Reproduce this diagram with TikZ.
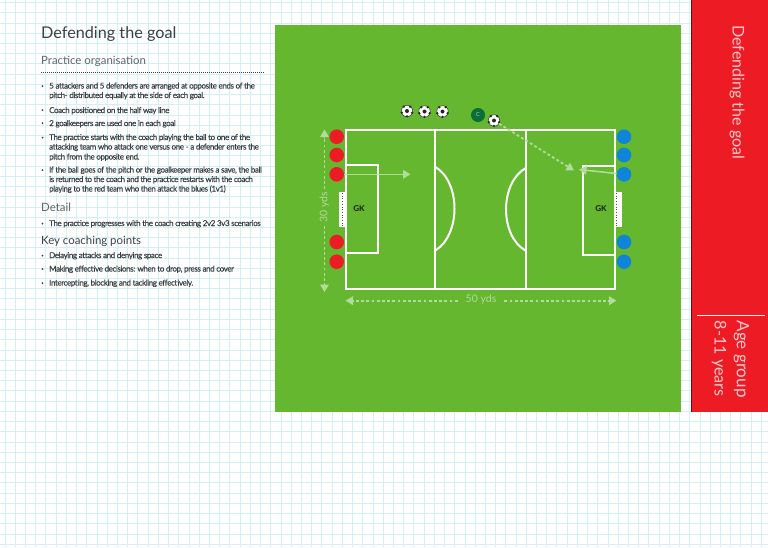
\documentclass[tikz,border=0pt]{standalone}
\usepackage{fontspec}
\setmainfont{Lato}
\newfontfamily\bodyf[LetterSpace=-5,FakeBold=0.25]{Lato}
\usetikzlibrary{arrows.meta}
\definecolor{gridc}{HTML}{D6EEF6}
\definecolor{pitchg}{HTML}{64B72F}
\definecolor{redc}{HTML}{ED1C24}
\definecolor{bluec}{HTML}{0F85D9}
\definecolor{pale}{HTML}{B2DC9C}
\definecolor{txt}{HTML}{3A4044}
\definecolor{sub}{HTML}{5E6568}
\definecolor{coachg}{HTML}{0B6E38}
\definecolor{pinkw}{HTML}{FBC9CC}
\tikzset{
  x=1pt,y=-1pt,
  pl/.style={line width=2pt,draw=white},
  attacker/.style={circle,fill=redc,minimum size=14.6pt,inner sep=0pt},
  defender/.style={circle,fill=bluec,minimum size=14.6pt,inner sep=0pt},
  gk/.style={font=\bfseries\fontsize{8}{8}\selectfont,text=black!90,inner sep=0pt},
  ballnode/.style={circle,fill=white,draw=black!80,line width=.5pt,minimum size=11.5pt,inner sep=0pt},
  dim/.style={line width=1.8pt,draw=pale,dash pattern=on 2.8pt off 2.4pt},
  run/.style={line width=1.6pt,draw=pale},
  tip/.style={-{Triangle[length=7.5pt,width=8.5pt,fill=pale,color=pale]}},
  blk/.style={anchor=base west,inner sep=0pt,text=txt,font=\bodyf\fontsize{8}{9}\selectfont},
  bul/.style={circle,fill=txt,inner sep=0pt,minimum size=2pt},
  dimtxt/.style={text=pale,inner sep=0pt,font=\fontsize{10.5}{11}\selectfont},
  side/.style={rotate=-90,anchor=west,inner sep=0pt,text=pinkw},
}
\newcommand{\soccerball}[2]{%
  \node[ballnode] (#1) at (#2) {};
  \fill[black!85] (#1.center) circle (2pt);
  \foreach \a in {-90,-18,54,126,198} {\fill[black!85] (#1.center) ++(\a:5.4pt) circle (1.3pt);}
}
\begin{document}
\begin{tikzpicture}
\useasboundingbox (0,0) rectangle (768,547);
\fill[white] (0,0) rectangle (768,547);
\foreach \k in {0,...,75} {\draw[gridc,line width=.8pt] ({5+10.22*\k},0) -- ({5+10.22*\k},547);}
\foreach \k in {0,...,53} {\draw[gridc,line width=.8pt] (0,{2.5+10.22*\k}) -- (768,{2.5+10.22*\k});}
% panels
\fill[pitchg] (274.5,25) rectangle (681,412);
\fill[redc] (691,0) rectangle (768,412);
\draw[black!60!redc,line width=1.4pt] (691.3,0) -- (691.3,412);
% side texts
\node[side,font=\fontsize{16.1}{18}\selectfont] (sidetitle) at (737,25) {Defending the goal};
\draw[white,line width=.8pt] (697,315) -- (765,315);
\node[side,font=\fontsize{17}{18}\selectfont] (agea) at (741.5,320.5) {Age group};
\node[side,font=\fontsize{16.2}{18}\selectfont] (ageb) at (719,320.5) {8-11 years};
% left text
\node[anchor=base west,inner sep=0pt,text=txt,font=\fontsize{16.2}{20}\selectfont] (title) at (41,38.5) {Defending the goal};
\node[anchor=base west,inner sep=0pt,text=sub,font=\fontsize{11.4}{14}\selectfont] (po) at (41,64) {Practice organisation};
\draw[txt,line width=1.2pt,dash pattern=on 1pt off 1pt] (41,72.3) -- (265,72.3);
\foreach \y in {86,110,123,137.5,170,223.5,255.5,269,283} {\node[bul] at (42.5,\y) {};}
\node[blk] (l1) at (49,88.5) {5 attackers and 5 defenders are arranged at opposite ends of the};
\node[blk] (l2) at (49,98) {pitch- distributed equally at the  side of each goal.};
\node[blk] (l3) at (49,113) {Coach positioned on the half way line};
\node[blk] (l4) at (49,126) {2 goalkeepers are used one in each goal};
\node[blk] (l5) at (49,140) {The practice starts with the coach playing the ball to one of the};
\node[blk] (l6) at (49,149.5) {attacking team who attack one versus one - a defender enters the};
\node[blk] (l7) at (49,159.5) {pitch from the opposite end.};
\node[blk] (l8) at (49,172.5) {If the ball goes of the pitch or the goalkeeper makes a save, the ball};
\node[blk] (l9) at (49,182) {is returned to the coach and the practice restarts with the coach};
\node[blk] (l10) at (49,191.5) {playing to the red team who then attack the blues (1v1)};
\node[anchor=base west,inner sep=0pt,text=sub,font=\fontsize{11.4}{14}\selectfont] (det) at (41,211) {Detail};
\node[blk] (l11) at (49,226) {The practice progresses with the coach creating 2v2 3v3 scenarios};
\node[anchor=base west,inner sep=0pt,text=txt,font=\fontsize{11.4}{14}\selectfont] (key) at (41,244.5) {Key coaching points};
\node[blk] (l12) at (49,258) {Delaying attacks and denying space};
\node[blk] (l13) at (49,271.5) {Making effective decisions: when to drop, press and cover};
\node[blk] (l14) at (49,285.5) {Intercepting, blocking and tackling effectively.};
% goals
\fill[white] (339,192) rectangle (345.5,226.7);
\draw[black!70,line width=.6pt,dash pattern=on .7pt off 2pt] (342.3,193) -- (342.3,226);
\fill[white] (615,192) rectangle (621.7,226.7);
\draw[black!70,line width=.6pt,dash pattern=on .7pt off 2pt] (616.5,193) -- (616.5,226);
% pitch
\draw[pl] (346,130) rectangle (615,288.7);
\draw[pl] (435,130) -- (435,288.7);
\draw[pl] (525.7,130) -- (525.7,288.7);
\draw[pl] (346,164.5) -| (378,253.3) -- (346,253.3);
\draw[pl] (615,165.5) -| (583,254.5) -- (615,254.5);
\draw[pl] (435,166.7) .. controls (461,182) and (461,235) .. (435,250.7);
\draw[pl] (525.7,168) .. controls (499.5,183) and (499.5,236) .. (525.7,250.7);
\node[gk] (gka) at (359,209) {GK};
\node[gk] (gkb) at (601,209) {GK};
% players
\foreach \n/\y in {1/136.7,2/155,3/174.3,4/242,5/261.7} {
  \node[attacker] (r\n) at (336.7,\y) {};
  \node[defender] (b\n) at (624,\y) {};
}
% coach and balls
\soccerball{ba}{407,111}
\soccerball{bb}{424.5,111.5}
\soccerball{bc}{442.5,111.5}
\node[circle,fill=coachg,minimum size=14pt,inner sep=0pt,text=pale,font=\fontsize{5.5}{6}\selectfont] (coach) at (478,115) {C};
\soccerball{bd}{494,120.5}
% arrows
\coordinate (atk) at (410.5,174.3);
\coordinate (pass) at (574,170.5);
\coordinate (def) at (579,169.5);
\draw[run,tip] (r3) -- (atk);
\draw[dim,tip] (bd) -- (pass);
\draw[run,tip] (b3) -- (def);
% dimensions
\node[dimtxt,rotate=90] (d30) at (324.5,207.5) {30 yds};
\node[dimtxt] (d50) at (481,300) {50 yds};
\coordinate (dt) at (324.5,129.5);
\coordinate (db) at (324.5,292);
\coordinate (dl) at (345.5,300.7);
\coordinate (dr) at (616.5,300.7);
\draw[dim,tip] (d30.east) ++(0,-3) -- (dt);
\draw[dim,tip] (d30.west) ++(0,3) -- (db);
\draw[dim,tip] (d50.west) ++(-8,.7) -- (dl);
\draw[dim,tip] (d50.east) ++(8,.7) -- (dr);
\end{tikzpicture}
\end{document}
